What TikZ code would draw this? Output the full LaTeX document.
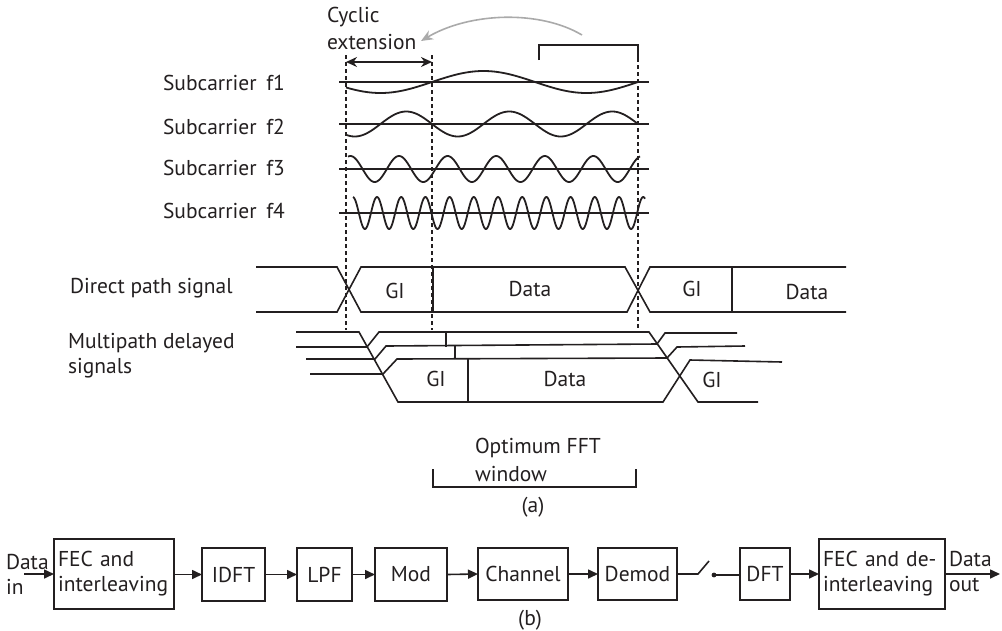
\documentclass[tikz,border=0pt]{standalone}
\usepackage{fontspec}
\setmainfont{PT Sans}
\usetikzlibrary{arrows.meta}
\definecolor{ink}{RGB}{35,31,32}
\definecolor{arrowgray}{RGB}{170,170,170}
\begin{document}
\begin{tikzpicture}[x=1pt,y=-1pt,
  every node/.style={inner sep=0pt,outer sep=0pt,text=ink},
  lbl/.style={font=\fontsize{21.5}{25}\selectfont,anchor=west,align=left},
  ctext/.style={font=\fontsize{21.5}{25}\selectfont},
  sig/.style={draw=ink,line width=1.6pt,line join=miter},
  wave/.style={draw=ink,line width=1.8pt,smooth},
  axisline/.style={draw=ink,line width=1.5pt},
  vdash/.style={draw=ink,line width=1.4pt,dash pattern=on 4pt off 3pt},
  blk/.style={draw=ink,line width=1.6pt,font=\fontsize{21.5}{25}\selectfont,align=left},
  arr/.style={draw=ink,line width=1.6pt,-{Triangle[length=10pt,width=9pt]}},
]
\useasboundingbox (0,0) rectangle (1002,630);

% ---------- top labels ----------
\node[lbl,font=\fontsize{21.5}{27}\selectfont] (cyc) at (327,28) {Cyclic\\extension};
\node[lbl] (s1) at (163,83) {Subcarrier\hspace{0.45em}f1};
\node[lbl] (s2) at (163,127) {Subcarrier\hspace{0.45em}f2};
\node[lbl] (s3) at (163,168) {Subcarrier\hspace{0.45em}f3};
\node[lbl] (s4) at (163,211) {Subcarrier\hspace{0.45em}f4};
\node[lbl] (dps) at (70,288) {Direct path signal};
\node[lbl] (mps) at (68,356) {Multipath delayed\\signals};

% ---------- gray curved arrow ----------
\coordinate (gs) at (582,35);
\coordinate (ge) at (421,41);
\draw[arrowgray,line width=1.6pt,-{Stealth[length=12pt,width=10pt]}] (gs) .. controls (540,10) and (470,12) .. (ge);

% ---------- bracket and dashed lines ----------
\draw[ink,line width=1.5pt] (539,60) -- (539,45) -- (638,45) -- (638,58);
\draw[vdash] (346,55) -- (346,330);
\draw[vdash] (432,55) -- (432,330);
\draw[vdash] (638,58) -- (638,332);
\coordinate (ca) at (346,62);
\coordinate (cb) at (432,62);
\draw[ink,line width=1.6pt,{Stealth[length=11pt,width=10pt]}-{Stealth[length=11pt,width=10pt]}] (ca) -- (cb);

% ---------- subcarriers ----------
\foreach \yy in {82,124,169,213} \draw[axisline] (339,\yy) -- (649,\yy);
\draw[wave] plot[domain=346:638,samples=150] (\x,{82-11*sin((\x-432)/206*360)});
\draw[wave] plot[domain=346:638,samples=200] (\x,{124+12.5*sin((\x-432)/103*360)});
\draw[wave] plot[domain=348:640,samples=300] (\x,{169-13*cos((\x-399)/48.6*360)});
\draw[wave] plot[domain=353:645,samples=450] (\x,{213-16*cos((\x-377)/24.2*360)});

% ---------- direct path signal ----------
\draw[sig] (256,267) -- (337,267) -- (361,312) -- (627,312) -- (650,267) -- (846,267);
\draw[sig] (256,312) -- (337,312) -- (361,267) -- (625,267) -- (650,312) -- (846,312);
\draw[sig] (433,267) -- (433,312);
\draw[sig] (732,267) -- (732,312);
\node[ctext] (gi1) at (395,291) {GI};
\node[ctext] (d1) at (530,289) {Data};
\node[ctext] (gi2) at (692,289) {GI};
\node[ctext] (d2) at (807,292) {Data};

% ---------- multipath ----------
\draw[sig] (296,332) -- (359,332) -- (398,402) -- (663,402) -- (690,360) -- (782,362);
\draw[sig] (296,347) -- (367,347) -- (379,332) -- (649,332) -- (698,402) -- (758,402);
\draw[sig] (306,359) -- (375,359) -- (386,346) -- (657,344) -- (665,333) -- (737,333);
\draw[sig] (310,374) -- (383,374) -- (397,359) -- (667,358) -- (677,347) -- (745,346);
\draw[sig] (446,332) -- (446,346.5);
\draw[sig] (455,345.5) -- (455,359);
\draw[sig] (468,359) -- (468,402);
\node[ctext] (gi3) at (436,379) {GI};
\node[ctext] (d3) at (565,379) {Data};
\node[ctext] (gi4) at (712,380) {GI};

% ---------- FFT window ----------
\draw[ink,line width=1.5pt] (433,469) -- (433,487) -- (636,487) -- (636,469);
\node[lbl,font=\fontsize{21.5}{28}\selectfont] (fft) at (475,460) {Optimum FFT\\window};
\node[ctext] (la) at (533,507) {(a)};

% ---------- block diagram ----------
\node[lbl] (din) at (6,574) {Data\\in};
\node[blk,minimum width=120pt,minimum height=70pt,text width=112pt] (fec1) at (114,574) {FEC and\\interleaving};
\node[blk,minimum width=63pt,minimum height=53pt,align=center] (idft) at (233.5,574.5) {IDFT};
\node[blk,minimum width=55pt,minimum height=53pt,align=center] (lpf) at (324.5,574.5) {LPF};
\node[blk,minimum width=72pt,minimum height=53pt,align=center] (mod) at (411,574.5) {Mod};
\node[blk,minimum width=90pt,minimum height=52pt,align=center] (chan) at (523,574) {Channel};
\node[blk,minimum width=79pt,minimum height=52pt,align=center] (demod) at (637.5,574) {Demod};
\node[blk,minimum width=50pt,minimum height=52pt,align=center] (dft) at (765,574) {DFT};
\node[blk,minimum width=126pt,minimum height=70pt,text width=118pt] (fec2) at (882,574) {FEC and de-\\interleaving};
\node[lbl] (dout) at (949,572) {Data\\out};
\node[ctext] (lb) at (530,620) {(b)};

\coordinate (inpt) at (24,574);
\coordinate (outpt) at (1000,574);
\coordinate (swa) at (698,574);
\coordinate (swb) at (709,561);
\coordinate (swc) at (714,575);
\draw[arr] (inpt) -- (fec1.west);
\draw[arr] (fec1.east |- idft.west) -- (idft.west);
\draw[arr] (idft.east) -- (lpf.west);
\draw[arr] (lpf.east) -- (mod.west);
\draw[arr] (mod.east) -- (chan.west);
\draw[arr] (chan.east) -- (demod.west);
\draw[ink,line width=1.6pt] (demod.east) -- (swa) -- (swb);
\fill[ink] (swc) circle (2.4pt);
\draw[ink,line width=1.6pt] (swc) -- (swc -| dft.west);
\draw[arr] (dft.east) -- (fec2.west);
\draw[arr] (fec2.east) -- (outpt);
\end{tikzpicture}
\end{document}
